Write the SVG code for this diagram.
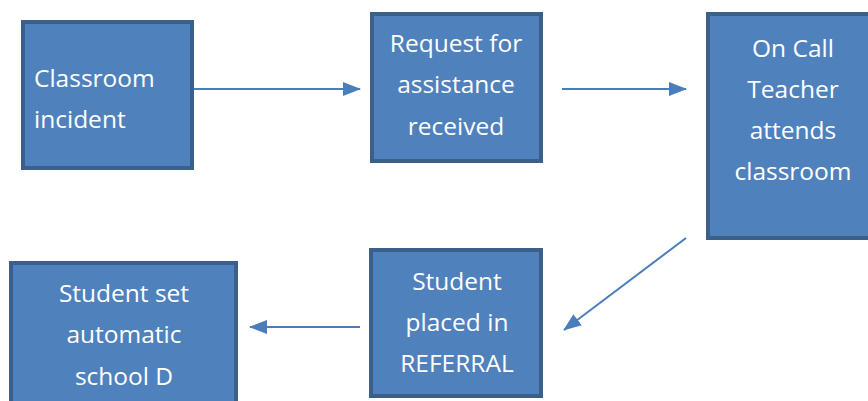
<svg xmlns="http://www.w3.org/2000/svg" width="868" height="401" viewBox="0 0 868 401">
<style>
.box{fill:#4F81BD;stroke:#3A5F8B;stroke-width:4}
.t{font-family:"Open Sans","Noto Sans",sans-serif;font-size:24.5px;fill:#FFFFFF}
.c{text-anchor:middle}
.conn line{stroke:#4A7EBB;stroke-width:2;marker-end:url(#ah)}
</style>
<defs>
<marker id="ah" markerWidth="18" markerHeight="14" refX="17" refY="7" orient="auto" markerUnits="userSpaceOnUse">
<path d="M0,0 L18,7 L0,14 Z" fill="#4A7EBB"/>
</marker>
</defs>
<rect width="868" height="401" fill="#FFFFFF"/>
<g id="n1"><rect class="box" x="23" y="22" width="169" height="146"/>
<text class="t" x="34" y="87">Classroom</text><text class="t" x="34" y="128">incident</text></g>
<g id="n2"><rect class="box" x="372" y="14" width="169" height="147"/>
<text class="t c" x="456" y="52">Request for</text><text class="t c" x="456" y="93">assistance</text><text class="t c" x="456" y="135">received</text></g>
<g id="n3"><rect class="box" x="708" y="14" width="170" height="224"/>
<text class="t c" x="793" y="57">On Call</text><text class="t c" x="793" y="98">Teacher</text><text class="t c" x="793" y="139">attends</text><text class="t c" x="793" y="180">classroom</text></g>
<g id="n4"><rect class="box" x="11" y="263" width="225" height="150"/>
<text class="t c" x="124" y="302">Student set</text><text class="t c" x="124" y="343">automatic</text><text class="t c" x="124" y="385">school D</text></g>
<g id="n5"><rect class="box" x="371" y="250" width="170" height="146"/>
<text class="t c" x="457" y="290">Student</text><text class="t c" x="457" y="331">placed in</text><text class="t c" x="457" y="372">REFERRAL</text></g>
<g class="conn">
<line x1="194" y1="89" x2="360" y2="89"/>
<line x1="562" y1="89" x2="686" y2="89"/>
<line x1="686" y1="238" x2="564" y2="330"/>
<line x1="360" y1="327" x2="250" y2="327"/>
</g>
</svg>
